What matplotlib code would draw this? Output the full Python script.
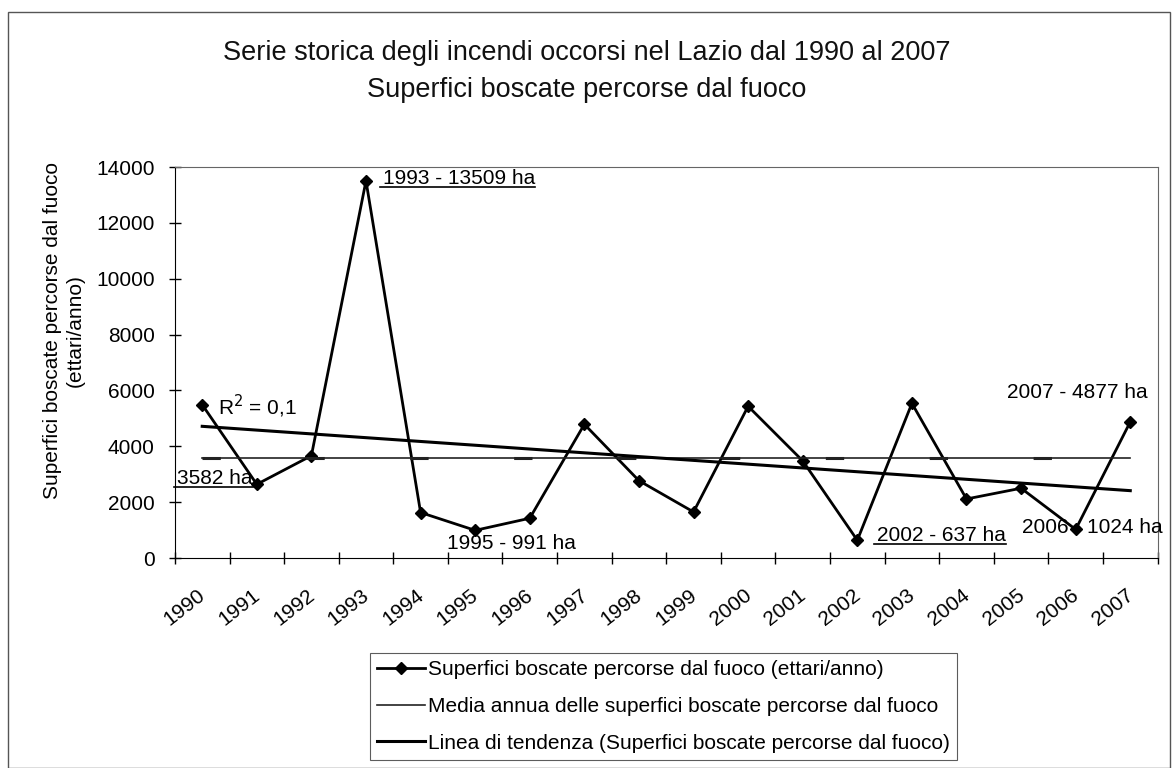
import numpy as np
import matplotlib
matplotlib.use("Agg")
import matplotlib.pyplot as plt
from matplotlib.lines import Line2D
from matplotlib.patches import Rectangle
from matplotlib.transforms import ScaledTranslation

plt.rcParams['font.family'] = ['Liberation Sans', 'DejaVu Sans']

# dati
anni = [str(a) for a in range(1990, 2008)]
superfici = [5490, 2640, 3665, 13509, 1630, 991, 1425, 4790, 2770, 1650,
             5435, 3480, 637, 5540, 2115, 2500, 1024, 4877]
media = 3582
yticks = [0, 2000, 4000, 6000, 8000, 10000, 12000, 14000]

x = np.arange(len(anni))
coef = np.polyfit(x, superfici, 1)
tendenza = np.polyval(coef, x)

fig = plt.figure(figsize=(11.74, 7.68), dpi=100)
fig.patch.set_facecolor("white")
fig.add_artist(Rectangle((0.007, 0.0), 0.99, 0.985, transform=fig.transFigure,
                         fill=False, edgecolor="#555555", linewidth=1))

fig.text(0.5, 0.931, "Serie storica degli incendi occorsi nel Lazio dal 1990 al 2007",
         ha="center", va="center", fontsize=19.5, color="#111111")
fig.text(0.5, 0.883, "Superfici boscate percorse dal fuoco",
         ha="center", va="center", fontsize=19.5, color="#111111")

ax = fig.add_axes([0.149, 0.2734, 0.837, 0.509])
ax.plot(x, superfici, color="black", lw=2, marker="D", markersize=6,
        label="Superfici boscate percorse dal fuoco (ettari/anno)")
ax.plot(x, [media] * len(x), color="#222222", lw=1.2,
        label="Media annua delle superfici boscate percorse dal fuoco")
ax.plot(x, [media] * len(x), color="#222222", lw=2.2, ls=(0, (6, 28)))
ax.plot(x, tendenza, color="black", lw=2.2,
        label="Linea di tendenza (Superfici boscate percorse dal fuoco)")

ax.set_xlim(-0.5, len(anni) - 0.5)
ax.set_ylim(0, 14000)
ax.set_yticks(yticks)
ax.set_yticklabels([str(v) for v in yticks], fontsize=15)
ax.set_xticks(np.arange(len(anni) + 1) - 0.5)
ax.set_xticklabels([])
ax.set_xticks(x, minor=True)
ax.set_xticklabels(anni, minor=True, rotation=38, ha="right",
                   rotation_mode="anchor", fontsize=15)
ax.tick_params(axis="both", which="major", direction="inout", length=9, width=1)
ax.tick_params(axis="y", pad=10)
ax.tick_params(axis="x", which="minor", length=0, pad=20)
offset = ScaledTranslation(-0.05, 0, fig.dpi_scale_trans)
for lab in ax.get_xticklabels(minor=True):
    lab.set_transform(lab.get_transform() + offset)
for s in ["top", "right"]:
    ax.spines[s].set_color("#666666")
    ax.spines[s].set_linewidth(0.8)

fig.text(0.0545, 0.570, "Superfici boscate percorse dal fuoco\n(ettari/anno)",
         rotation=90, ha="center", va="center", fontsize=15,
         multialignment="center", linespacing=1.3)

# etichette
kw = dict(textcoords="offset pixels", fontsize=15, va="center")
t1993 = ax.annotate("1993 - 13509 ha", (3, superfici[3]), xytext=(17, 2), ha="left", **kw)
ax.annotate("R$^2$ = 0,1", (0, superfici[0]), xytext=(16, -2), ha="left", **kw)
tmedia = ax.annotate("3582 ha", (0, media), xytext=(-25, -20), ha="left", **kw)
ax.annotate("1995 - 991 ha", (5, superfici[5]), xytext=(-28, -13), ha="left", **kw)
t2002 = ax.annotate("2002 - 637 ha", (12, superfici[12]), xytext=(20, 5), ha="left", **kw)
ax.annotate("2006 - 1024 ha", (16, superfici[16]), xytext=(-54, 2), ha="left", **kw)
ax.annotate("2007 - 4877 ha", (17, superfici[17]), xytext=(17, 29), ha="right", **kw)

leg = fig.legend(loc="upper left", bbox_to_anchor=(0.315, 0.150), fontsize=15,
                 frameon=True, fancybox=False, edgecolor="#333333",
                 handlelength=2.3, handletextpad=0.15, labelspacing=0.85,
                 borderpad=0.35, borderaxespad=0)
leg.get_frame().set_linewidth(0.8)

# sottolineature
fig.canvas.draw()
inv = fig.transFigure.inverted()
for t in [t1993, tmedia, t2002]:
    bb = t.get_window_extent()
    (x0, y0), (x1, _) = inv.transform([(bb.x0 - 3, bb.y0 + 1), (bb.x1, bb.y0)])
    fig.add_artist(Line2D([x0, x1], [y0, y0], transform=fig.transFigure,
                          color="black", lw=1.2))

fig.savefig("out.png", dpi=100)
